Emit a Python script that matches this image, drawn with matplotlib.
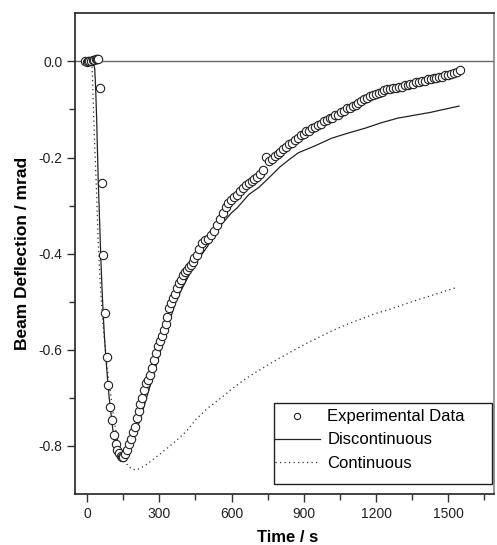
import matplotlib
matplotlib.use("Agg")
import matplotlib.pyplot as plt
from matplotlib.patches import Rectangle
from matplotlib.ticker import FixedLocator, FormatStrFormatter

plt.rcParams['font.family'] = ['Liberation Sans', 'DejaVu Sans']
plt.rcParams['axes.unicode_minus'] = False

# ---- Experimental data ----
exp_t = [-8, -2, 4, 10, 17, 24, 30, 36, 42, 47,
         54, 61, 66, 75, 83, 88, 97, 103, 112, 119, 126, 133, 139, 145,
         150, 158, 166, 174, 182, 190, 198, 206, 214, 222, 230, 238, 246, 254,
         262, 270, 278, 286, 294, 302, 310, 318, 326, 334, 342, 350, 358, 366,
         374, 382, 390, 398, 406, 414, 422, 430, 438, 446,
         455, 467, 479, 491, 503, 515, 527, 539, 551, 563, 575, 587, 599, 611,
         623, 635, 647, 659, 671, 683, 695, 707, 719, 731, 743, 755, 767, 779,
         791, 803, 815, 827, 839, 851, 863, 875, 887, 899, 911, 923, 935, 947,
         959, 971, 983, 995, 1007, 1019, 1031, 1043, 1055, 1067, 1079, 1091,
         1103, 1115, 1127, 1139, 1151, 1163, 1175, 1187, 1199, 1211, 1223, 1235,
         1247, 1259, 1271, 1283, 1295, 1307, 1319, 1331, 1343, 1355, 1367, 1379,
         1391, 1403, 1415, 1427, 1439, 1451, 1463, 1475, 1487, 1499, 1511, 1523,
         1535, 1547]
exp_v = [0.000, -0.001, 0.000, 0.001, 0.000, 0.002, 0.003, 0.004, 0.005, 0.004,
         -0.055, -0.252, -0.403, -0.524, -0.615, -0.673, -0.719, -0.746, -0.777, -0.797, -0.808, -0.815, -0.820, -0.824,
         -0.823, -0.817, -0.808, -0.797, -0.785, -0.772, -0.760, -0.742, -0.727, -0.713, -0.700, -0.683, -0.670, -0.662,
         -0.652, -0.638, -0.621, -0.607, -0.593, -0.581, -0.572, -0.558, -0.546, -0.532, -0.514, -0.503, -0.493, -0.483,
         -0.472, -0.461, -0.454, -0.445, -0.438, -0.434, -0.428, -0.423, -0.417, -0.410,
         -0.403, -0.391, -0.378, -0.372, -0.369, -0.362, -0.352, -0.341, -0.328, -0.316, -0.303, -0.295, -0.288, -0.282,
         -0.277, -0.270, -0.264, -0.258, -0.252, -0.249, -0.244, -0.240, -0.234, -0.226, -0.198, -0.208, -0.203, -0.197,
         -0.193, -0.188, -0.182, -0.179, -0.172, -0.169, -0.163, -0.160, -0.153, -0.151, -0.145, -0.144, -0.138, -0.137,
         -0.132, -0.130, -0.125, -0.123, -0.118, -0.117, -0.112, -0.111, -0.105, -0.103, -0.098, -0.096,
         -0.093, -0.090, -0.087, -0.082, -0.079, -0.076, -0.073, -0.070, -0.067, -0.065, -0.063, -0.060,
         -0.058, -0.058, -0.056, -0.055, -0.053, -0.054, -0.050, -0.050, -0.047, -0.047, -0.043, -0.042,
         -0.040, -0.041, -0.037, -0.037, -0.034, -0.035, -0.032, -0.033, -0.029, -0.029, -0.026, -0.024,
         -0.022, -0.018]

# ---- Discontinuous model ----
disc_t = [0, 25, 32, 36, 40, 43, 46, 50, 54, 58, 62, 67, 72, 78, 85, 92, 100, 108, 116,
          124, 132, 140, 148, 156, 165, 180, 200, 220, 240, 260, 280, 300, 320, 340,
          365, 390, 420, 450, 500, 523, 560, 600, 623, 672, 714, 760, 800, 840, 878,
          950, 1015, 1085, 1155, 1220, 1291, 1360, 1427, 1490, 1545]
disc_v = [0.0, 0.0, -0.015, -0.06, -0.12, -0.18, -0.24, -0.30, -0.36, -0.42, -0.47, -0.525,
          -0.57, -0.615, -0.66, -0.70, -0.735, -0.77, -0.795, -0.815, -0.826, -0.831,
          -0.832, -0.828, -0.822, -0.805, -0.777, -0.745, -0.712, -0.678, -0.645, -0.61,
          -0.578, -0.545, -0.505, -0.477, -0.448, -0.42, -0.385, -0.366, -0.338, -0.315,
          -0.305, -0.277, -0.262, -0.240, -0.220, -0.204, -0.190, -0.175, -0.160, -0.149,
          -0.139, -0.128, -0.118, -0.112, -0.106, -0.099, -0.093]

# ---- Continuous model ----
cont_t = [0, 15, 21, 30, 40, 46, 54, 65, 83, 100, 110, 125, 145, 165, 185, 205, 219,
          246, 272, 300, 342, 370, 412, 452, 500, 562, 603, 659, 700, 783, 844, 906,
          1015, 1085, 1196, 1262, 1361, 1456, 1530]
cont_v = [0.0, 0.0, -0.01, -0.15, -0.28, -0.37, -0.455, -0.54, -0.636, -0.70, -0.74,
          -0.785, -0.818, -0.838, -0.848, -0.850, -0.847, -0.839, -0.829, -0.818,
          -0.801, -0.789, -0.770, -0.745, -0.722, -0.698, -0.681, -0.660, -0.647,
          -0.622, -0.605, -0.588, -0.561, -0.546, -0.525, -0.515, -0.498, -0.483, -0.471]

labels = ["Experimental Data", "Discontinuous", "Continuous"]
x_major = [0, 300, 600, 900, 1200, 1500]
x_minor = [150, 450, 750, 1050, 1350, 1650]
y_major = [0.0, -0.2, -0.4, -0.6, -0.8]
y_minor = [-0.1, -0.3, -0.5, -0.7]

fig = plt.figure(figsize=(4.97, 5.45), dpi=100)
# axes box: x 75..494 px, y 13.3..494 px
ax = fig.add_axes([75 / 497, 51 / 545, (494 - 75) / 497, (494 - 13.3) / 545])

ax.axhline(0, color='#6a6a6a', lw=1.0, zorder=1)
ln_c, = ax.plot(cont_t, cont_v, color='#333333', lw=0.9, ls=(0, (1, 2.6)),
                label=labels[2], zorder=2)
ln_d, = ax.plot(disc_t, disc_v, color='#222222', lw=0.9, ls='-',
                label=labels[1], zorder=3)
ln_e, = ax.plot(exp_t, exp_v, ls='none', marker='o', ms=6.0, mfc='white',
                mec='#222222', mew=0.8, label=labels[0], zorder=4)

ax.set_xlim(-50, 1690)
ax.set_ylim(-0.9, 0.1)
ax.set_xticks(x_major)
ax.set_yticks(y_major)
ax.xaxis.set_minor_locator(FixedLocator(x_minor))
ax.yaxis.set_minor_locator(FixedLocator(y_minor))
ax.yaxis.set_major_formatter(FormatStrFormatter('%.1f'))

ax.tick_params(which='major', direction='out', length=5.5, width=1.0,
               labelsize=10, color='#333333', labelcolor='#222222', pad=3.5)
ax.tick_params(which='minor', direction='out', length=4, width=1.0, color='#333333')
ax.tick_params(axis='x', which='both', top=False)
ax.tick_params(axis='y', which='both', right=False)

for side in ['left', 'bottom', 'top']:
    ax.spines[side].set_visible(True)
    ax.spines[side].set_color('#222222')
    ax.spines[side].set_linewidth(1.2)
ax.spines['right'].set_color('#7a7a7a')
ax.spines['right'].set_linewidth(1.1)

ax.set_xlabel("Time / s", fontsize=12, fontweight='bold', labelpad=6)
ax.xaxis.set_label_coords(0.508, -0.091)
ax.xaxis.label.set_va('center')
ax.set_ylabel("Beam Deflection / mrad", fontsize=12.5, fontweight='bold', labelpad=6)

# legend entries without their own frame; frame drawn as a rectangle in axes coords
leg = ax.legend(handles=[ln_e, ln_d, ln_c], loc='center left',
                bbox_to_anchor=((274.5 - 75) / 419, (494 - 440) / 480.7),
                borderaxespad=0, fontsize=12,
                frameon=False, handlelength=2.75, handletextpad=0.42,
                labelspacing=0.48, borderpad=0.0, markerscale=0.75)
fx0, fx1 = (274 - 75) / 419, (492 - 75) / 419
fy0, fy1 = (494 - 484) / 480.7, (494 - 403) / 480.7
frame = Rectangle((fx0, fy0), fx1 - fx0, fy1 - fy0,
                  transform=ax.transAxes, fill=True, facecolor='white',
                  edgecolor='#222222', lw=1.0, zorder=5)
ax.add_patch(frame)
leg.set_zorder(6)

fig.savefig("out.png", dpi=100)
